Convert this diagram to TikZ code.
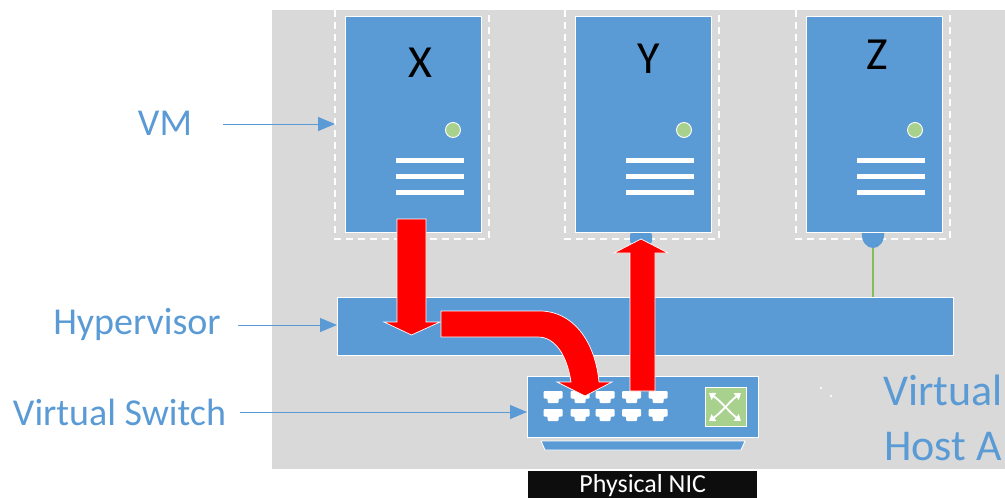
\documentclass[tikz,border=0pt]{standalone}
\usepackage{fontspec}
\setmainfont{Carlito}
\usetikzlibrary{arrows.meta}
\definecolor{boxblue}{HTML}{5B9BD5}
\definecolor{panelgray}{HTML}{D9D9D9}
\definecolor{leaf}{HTML}{A9D18E}
\definecolor{wire}{HTML}{84BC5A}
\tikzset{
  x=1pt,y=-1pt,
  bluebox/.style={draw=white,line width=1pt,fill=boxblue,inner sep=0pt,anchor=north west},
  framedash/.style={draw=white,line width=1.2pt,dash pattern=on 7pt off 5pt},
  barline/.style={fill=white,draw=none},
  lamp/.style={circle,draw=white,line width=0.9pt,fill=leaf,inner sep=0pt,minimum size=15pt},
  vmletter/.style={font=\fontsize{46}{46}\selectfont,text=black,inner sep=0pt},
  bluelabel/.style={text=boxblue,inner sep=0pt},
  pointer/.style={draw=boxblue,line width=0.9pt,-{Triangle[length=17pt,width=14pt,fill=boxblue]}},
  flow/.style={fill=red,draw=white,line width=0.7pt,line join=miter},
  portshape/.style={fill=white,draw=none,rounded corners=1pt},
  plug/.style={fill=boxblue,draw=none},
}
\newcommand{\rjport}[2]{%
  \fill[portshape] (#1-9.5,#2-6) -- (#1+9.5,#2-6) -- (#1+9.5,#2+1.5) -- (#1+5.5,#2+1.5) -- (#1+5.5,#2+6) -- (#1-5.5,#2+6) -- (#1-5.5,#2+1.5) -- (#1-9.5,#2+1.5) -- cycle;}
\newcommand{\vmbars}[1]{%
  \fill[barline] (#1+51,157.5) rectangle (#1+119,163);
  \fill[barline] (#1+51,173.5) rectangle (#1+119,179);
  \fill[barline] (#1+51,189.5) rectangle (#1+119,195);}
\newcommand{\vmframe}[1]{%
  \draw[framedash] (#1-10,10) -- (#1-10,239) -- (#1+144,239) -- (#1+144,10);}
\begin{document}
\begin{tikzpicture}
\path[use as bounding box] (0,0) rectangle (1005,498);
\clip (0,0) rectangle (1005,498);
\fill[white] (0,0) rectangle (1005,498);
\fill[panelgray] (272,10) rectangle (1005,469);

% dashed frames
\vmframe{345}
\vmframe{575}
\vmframe{806}

% plugs
\fill[plug,rounded corners=3pt] (630,232) -- (652,232) -- (652,244) -- (630,244) -- cycle;
\fill[plug] (862,232) -- (884,232) .. controls (885,242) and (879,248) .. (873,248) .. controls (867,248) and (861,242) .. (862,232) -- cycle;

% VM boxes
\node[bluebox,minimum width=136pt,minimum height=216pt] (vmx) at (345,16) {};
\node[bluebox,minimum width=136pt,minimum height=216pt] (vmy) at (575,16) {};
\node[bluebox,minimum width=136pt,minimum height=216pt] (vmz) at (806,16) {};
\node[vmletter] (xletter) at (420,63) {X};
\node[vmletter] (yletter) at (649,59) {Y};
\node[vmletter] (zletter) at (877,55) {Z};
\node[lamp] (lampx) at (453,130) {};
\node[lamp] (lampy) at (684,130) {};
\node[lamp] (lampz) at (915,130) {};
\vmbars{345}
\vmbars{575}
\vmbars{806}

% hypervisor and switch
\node[bluebox,minimum width=616pt,minimum height=58pt] (hyper) at (337,297) {};
\node[bluebox,minimum width=231pt,minimum height=61pt] (vswitch) at (527,376) {};
\coordinate (zdrop) at (873,248);
\draw[wire,line width=1.3pt] (zdrop) -- (zdrop |- hyper.north);
\fill[boxblue,draw=white,line width=0.9pt] (541,441) -- (745,441) -- (741,450) -- (545,450) -- cycle;

% ports
\foreach \px in {553,580,605,631.5,658}{\rjport{\px}{397}\rjport{\px}{415}}

% switch icon
\node[draw=white,line width=1pt,fill=leaf,minimum width=41pt,minimum height=39pt,inner sep=0pt,anchor=north west] (swicon) at (705,387) {};
\begin{scope}[white,line width=1.8pt,{Triangle[length=6pt,width=8pt]}-{Triangle[length=6pt,width=8pt]}]
\draw (709,393) .. controls (722,402) and (729,412) .. (741,421);
\draw (741,393) .. controls (729,402) and (722,412) .. (709,421);
\end{scope}

% specks
\fill[white!90!panelgray] (821,388) circle (1.4pt);
\fill[white!90!panelgray] (831,396) circle (1.4pt);

% red flows
\path[flow] (397,219) -- (426,219) -- (426,322) -- (440,322) -- (411.5,335) -- (384,322) -- (397,322) -- cycle;
\path[flow] (441,311) -- (540,311) .. controls (572,311) and (595,340) .. (599,382) -- (612,382) -- (585,396) -- (557,382) -- (571,382) .. controls (567,355) and (555,337) .. (538,337) -- (441,337) -- cycle;
\path[flow] (630,391) -- (630,253) -- (614,253) -- (641,239) -- (668,253) -- (655,253) -- (655,391) -- cycle;

% labels
\node[bluelabel,font=\fontsize{38}{38}\selectfont] (lblvm) at (165,123) {VM};
\node[bluelabel,font=\fontsize{38}{38}\selectfont] (lblhyper) at (137,324) {Hypervisor};
\node[bluelabel,font=\fontsize{38}{38}\selectfont] (lblswitch) at (119.5,412) {Virtual Switch};
\node[bluelabel,font=\fontsize{44}{44}\selectfont,anchor=base west] (lblvirtual) at (883,405) {Virtual};
\node[bluelabel,font=\fontsize{44}{44}\selectfont,anchor=base west] (lblhost) at (884,460) {Host A};
\coordinate (vmin) at (335,124);
\coordinate (hyin) at (337,325);
\coordinate (swin) at (527,412);
\draw[pointer] (223,124) -- (vmin);
\draw[pointer] (238,325) -- (hyin);
\draw[pointer] (240,412) -- (swin);

% NIC bar
\node[fill=black!95,text=white,font=\fontsize{26}{26}\selectfont,minimum width=229pt,minimum height=28pt,inner sep=0pt,anchor=north west] (nic) at (528,471) {Physical NIC};
\end{tikzpicture}
\end{document}
